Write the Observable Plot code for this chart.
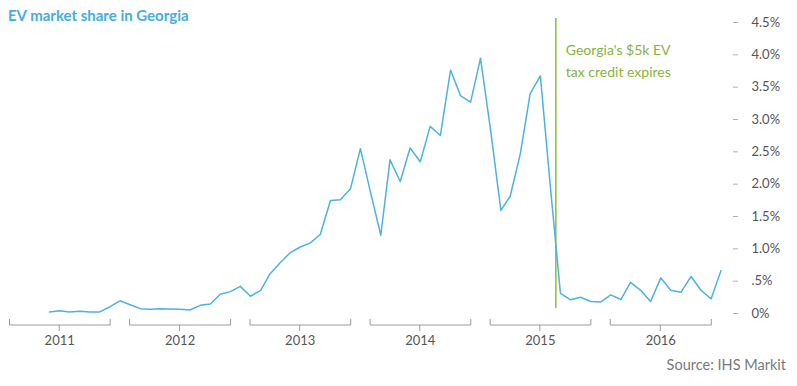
<!DOCTYPE html>
<html>
<head>
<meta charset="utf-8">
<script src="https://cdn.jsdelivr.net/npm/d3@7"></script>
<script src="https://cdn.jsdelivr.net/npm/@observablehq/plot@0.6"></script>
<style>
  html, body { margin: 0; padding: 0; background: #fff; }
  #wrap { position: relative; width: 797px; height: 386px; overflow: hidden; font-family: Lato, "Open Sans", sans-serif; }
  #title { position: absolute; left: 8px; top: 6px; font-size: 15px; font-weight: 700; color: #45ade0; }
  #source { position: absolute; right: 11px; top: 356px; font-size: 14.5px; color: #7a7a7a; }
</style>
</head>
<body>
<div id="wrap">
  <div id="chart"></div>
  <div id="title">EV market share in Georgia</div>
  <div id="source">Source: IHS Markit</div>
</div>
<script>
// Monthly EV market share in Georgia (%), first month May 2011
const firstMonth = [2011, 4]; // year, zero-based month
const shareValues = [
  0.024, 0.044, 0.024, 0.034, 0.024, 0.024, 0.105, 0.196,
  0.136, 0.075, 0.065, 0.075, 0.070, 0.065, 0.055, 0.126, 0.146, 0.298, 0.338, 0.420,
  0.267, 0.359, 0.612, 0.785, 0.937, 1.028, 1.089, 1.221, 1.748, 1.758, 1.930, 2.549,
  1.869, 1.210, 2.376, 2.042, 2.559, 2.346, 2.893, 2.752, 3.765, 3.370, 3.269, 3.948,
  2.823, 1.596, 1.809, 2.468, 3.400, 3.674, 1.981, 0.313, 0.212, 0.252, 0.186, 0.176,
  0.288, 0.217, 0.480, 0.359, 0.186, 0.551, 0.359, 0.328, 0.572, 0.359, 0.227, 0.663
];
const yearLabels = [2011, 2012, 2013, 2014, 2015, 2016];
const yTicks = [0, 0.5, 1, 1.5, 2, 2.5, 3, 3.5, 4, 4.5];
const annotationDate = "2015-07-18";
const annotationText = "Georgia's $5k EV\ntax credit expires";

const start = new Date(Date.UTC(firstMonth[0], firstMonth[1], 1));
const data = shareValues.map((v, i) => ({date: d3.utcMonth.offset(start, i), share: v}));
const annotation = [{date: new Date(annotationDate + "T00:00:00Z"), text: annotationText}];
const years = yearLabels.map(y => ({
  year: y,
  start: new Date(Date.UTC(y, 0, 1)),
  mid: new Date(Date.UTC(y, 5, 1)),
  end: new Date(Date.UTC(y, 10, 3))
}));

const fmt = d => d === 0 ? "0%" : d === 0.5 ? ".5%" : d.toFixed(1) + "%";

const bracketMark = (index, scales) => {
  const x = scales.x, y0 = scales.y(0);
  const g = d3.create("svg:g").attr("stroke", "#9a9a9a").attr("stroke-width", 1).attr("fill", "none");
  for (const yr of years) {
    const xs = x(yr.start), xe = x(yr.end), xm = x(yr.mid);
    const yb = y0 + 12;
    g.append("path").attr("d", `M${xs},${yb - 6}V${yb}H${xe}V${yb - 6}M${xm},${yb}V${yb + 6}`);
  }
  return g.node();
};

const chart = Plot.plot({
  width: 797,
  height: 386,
  marginLeft: 0,
  marginRight: 65,
  marginTop: 22,
  marginBottom: 73,
  style: {background: "transparent", fontFamily: "Lato, 'Open Sans', sans-serif", overflow: "visible"},
  x: {type: "utc", domain: [new Date(Date.UTC(2011, 0, 1)), new Date(Date.UTC(2017, 0, 1))], range: [9.5, 730.7], axis: null},
  y: {domain: [0, 4.5], axis: null},
  marks: [
    Plot.ruleX(annotation, {x: "date", stroke: "#8cc63f", strokeWidth: 1.6, insetTop: -4, insetBottom: 5}),
    Plot.text(annotation, {x: "date", text: "text", frameAnchor: "top", lineAnchor: "top", textAnchor: "start", dx: 10, dy: 17, fontSize: 14, lineHeight: 1.55, fill: "#86b440"}),
    Plot.line(data, {x: "date", y: "share", stroke: "#4db2e2", strokeWidth: 1.5}),
    Plot.axisY({anchor: "right", ticks: yTicks, tickFormat: fmt, tickSize: 5, tickPadding: 14, stroke: "#b0b0b0", fill: "#555", fontSize: 13, label: null}),
    bracketMark,
    Plot.text(years, {x: "mid", y: () => 0, dy: 27, text: d => String(d.year), fontSize: 13, fill: "#555"})
  ]
});
document.getElementById("chart").appendChild(chart);
</script>
</body>
</html>
